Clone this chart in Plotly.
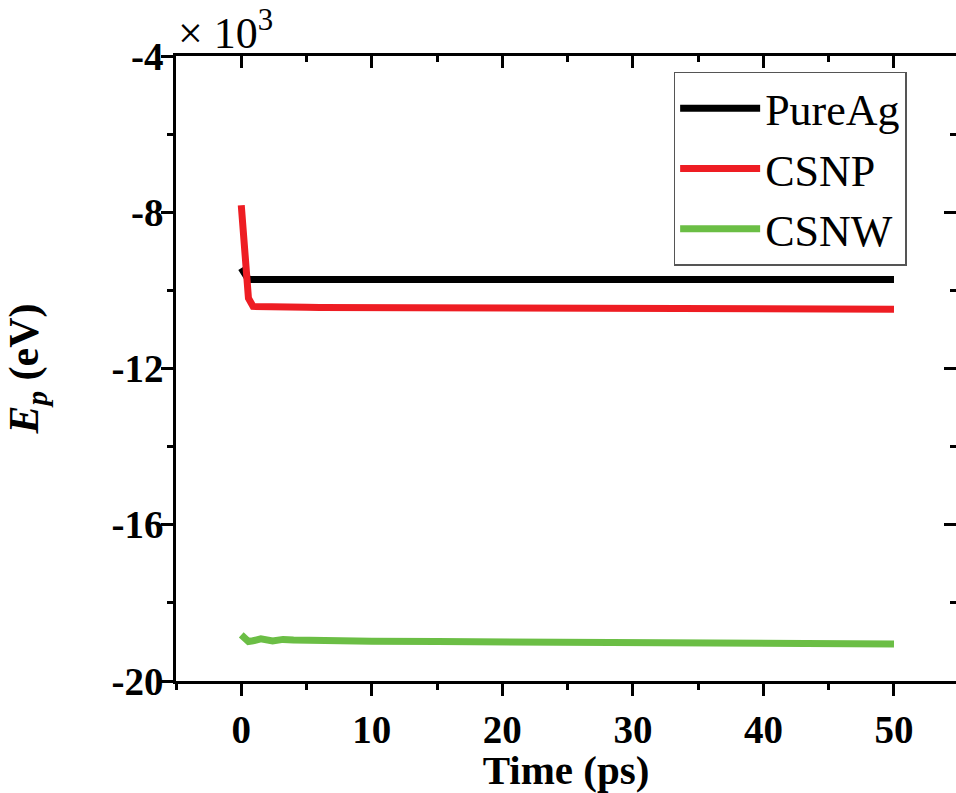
import plotly.graph_objects as go

# Time (ps)
time = [0, 0.55, 0.9, 1.5, 2.4, 3.2, 4, 5, 6, 8, 10, 15, 20, 25, 30, 35, 40, 45, 50]
# Potential energy, in units of 10^3 eV
pure_ag = [-9.43, -9.72, -9.722, -9.72, -9.721, -9.72, -9.721, -9.722, -9.72, -9.721,
           -9.722, -9.721, -9.722, -9.721, -9.722, -9.721, -9.722, -9.721, -9.722]
csnp = [-7.82, -10.20, -10.41, -10.42, -10.425, -10.43, -10.432, -10.435, -10.438, -10.44,
        -10.445, -10.452, -10.458, -10.462, -10.466, -10.47, -10.474, -10.478, -10.482]
csnw = [-18.82, -18.99, -18.97, -18.92, -18.975, -18.935, -18.95, -18.96, -18.965, -18.975,
        -18.98, -18.99, -19.0, -19.01, -19.02, -19.03, -19.04, -19.045, -19.055]

series_names = ["PureAg", "CSNP", "CSNW"]
series_colors = ["#000000", "#EE1D23", "#6BBE45"]

x_tickvals = [0, 10, 20, 30, 40, 50]
x_ticktext = ["0", "10", "20", "30", "40", "50"]
y_tickvals = [-20, -16, -12, -8, -4]
y_ticktext = ["-20", "-16", "-12", "-8", "-4"]

FONT = "Liberation Serif, Times New Roman, serif"
xr = [-5, 54.75]
yr = [-20, -4]

fig = go.Figure()
for name, vals, col in zip(series_names, [pure_ag, csnp, csnw], series_colors):
    fig.add_trace(go.Scatter(x=time, y=vals, mode="lines", name=name,
                             line=dict(color=col, width=7)))
# invisible trace to anchor the mirrored (inward tick) axes
fig.add_trace(go.Scatter(x=[None], y=[None], xaxis="x2", yaxis="y2",
                         showlegend=False, hoverinfo="skip"))

tickfont = dict(family=FONT, size=39, color="black", weight="bold")
fig.update_layout(
    width=956, height=793,
    margin=dict(l=176, r=0, t=56, b=112),
    paper_bgcolor="white", plot_bgcolor="white",
    showlegend=True,
    legend=dict(x=0.638, y=0.975, xanchor="left", yanchor="top",
                bgcolor="rgba(255,255,255,0)", bordercolor="#555555", borderwidth=1.5,
                font=dict(family=FONT, size=44, color="black"),
                itemwidth=80, tracegroupgap=0),
    xaxis=dict(range=xr, showgrid=False, zeroline=False,
               showline=True, linecolor="black", linewidth=2.5, mirror=True,
               ticks="outside", ticklen=12, tickwidth=2.5, tickcolor="black",
               tickmode="array", tickvals=x_tickvals, ticktext=x_ticktext,
               tickfont=tickfont,
               minor=dict(ticks="outside", ticklen=6, tickwidth=2.5, tickcolor="black",
                          dtick=5, tick0=0, showgrid=False),
               title=dict(text="Time (ps)", standoff=2,
                          font=dict(family=FONT, size=41, color="black", weight="bold"))),
    yaxis=dict(range=yr, showgrid=False, zeroline=False,
               showline=True, linecolor="black", linewidth=2.5, mirror=False,
               ticks="outside", ticklen=12, tickwidth=2.5, tickcolor="black",
               tickmode="array", tickvals=y_tickvals, ticktext=y_ticktext,
               tickfont=tickfont, ticklabelstandoff=-10,
               minor=dict(ticks="outside", ticklen=6, tickwidth=2.5, tickcolor="black",
                          dtick=2, tick0=-20, showgrid=False),
               title=dict(text="<i>E</i><sub><i>p</i></sub> (eV)", standoff=60,
                          font=dict(family=FONT, size=42, color="black", weight="bold"))),
    xaxis2=dict(range=xr, overlaying="x", side="top", showgrid=False, zeroline=False,
                showline=False, showticklabels=False,
                ticks="inside", ticklen=12, tickwidth=2.5, tickcolor="black",
                tickmode="array", tickvals=x_tickvals,
                minor=dict(ticks="inside", ticklen=6, tickwidth=2.5, tickcolor="black",
                           dtick=5, tick0=0, showgrid=False)),
    yaxis2=dict(range=yr, overlaying="y", side="right", showgrid=False, zeroline=False,
                showline=False, showticklabels=False,
                ticks="inside", ticklen=12, tickwidth=2.5, tickcolor="black",
                tickmode="array", tickvals=y_tickvals,
                minor=dict(ticks="inside", ticklen=6, tickwidth=2.5, tickcolor="black",
                           dtick=2, tick0=-20, showgrid=False)),
    annotations=[dict(text="× 10<sup>3</sup>", xref="paper", yref="paper",
                      x=0, y=1, xanchor="left", yanchor="bottom", yshift=-4, xshift=0,
                      showarrow=False, font=dict(family=FONT, size=44, color="black"))],
)

fig.write_html("out.html")
